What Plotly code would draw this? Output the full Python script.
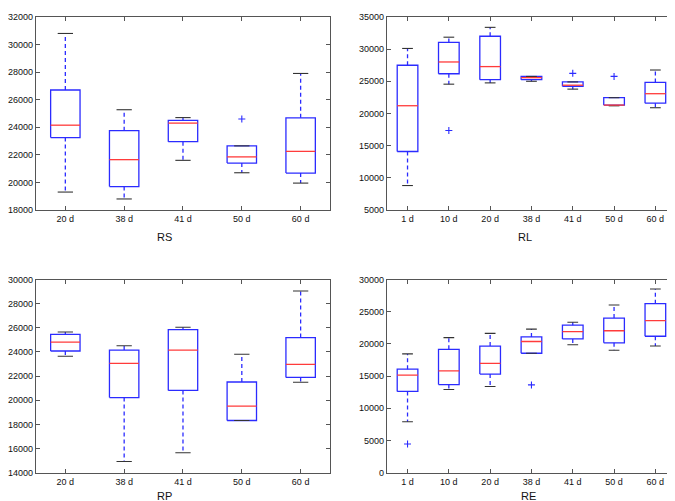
import plotly.graph_objects as go

# ---------------- data ----------------
rs_cats = ["20 d", "38 d", "41 d", "50 d", "60 d"]
rs_low = [19300, 18800, 21600, 20700, 19950]
rs_q1 = [23250, 19700, 22950, 21400, 20680]
rs_med = [24150, 21650, 24300, 21850, 22250]
rs_q3 = [26700, 23750, 24500, 22650, 24680]
rs_high = [30800, 25270, 24700, 22650, 27900]
rs_out = [[], [], [], [24600], []]

rl_cats = ["1 d", "10 d", "20 d", "38 d", "41 d", "50 d", "60 d"]
rl_low = [8800, 24550, 24750, 25000, 23780, 21190, 20890]
rl_q1 = [14090, 26170, 25250, 25250, 24230, 21300, 21600]
rl_med = [21200, 28000, 27280, 25560, 24390, 21300, 23070]
rl_q3 = [27490, 31040, 32000, 25750, 24900, 22450, 24820]
rl_high = [30100, 31850, 33380, 25750, 24900, 22450, 26750]
rl_out = [[], [17350], [], [], [26230], [25760], []]

rp_cats = ["20 d", "38 d", "41 d", "50 d", "60 d"]
rp_low = [23650, 14920, 15650, 18320, 21490]
rp_q1 = [24080, 20220, 20810, 18320, 21890]
rp_med = [24810, 23050, 24160, 19510, 22970]
rp_q3 = [25460, 24160, 25860, 21510, 25190]
rp_high = [25650, 24510, 26050, 23810, 29050]
rp_out = [[], [], [], [], []]

re_cats = ["1 d", "10 d", "20 d", "38 d", "41 d", "50 d", "60 d"]
re_low = [7900, 12920, 13380, 18550, 19870, 19010, 19670]
re_q1 = [12620, 13690, 15310, 18550, 20780, 20170, 21190]
re_med = [15150, 15810, 16980, 20380, 21900, 22050, 23620]
re_q3 = [16070, 19160, 19670, 21090, 22910, 24020, 26250]
re_high = [18450, 20980, 21640, 22300, 23370, 26050, 28540]
re_out = [[4460], [], [], [13630], [], [], []]

W, H = 675, 501
BOX_HALF = 0.25
CAP_HALF = 0.13
BLUE = "#2b2bff"
RED = "#ff3b3b"
CAP = "#333333"
FRAME = "#555555"
FONT = "Liberation Sans, Arial, sans-serif"

panels = [
    dict(name="RS", cats=rs_cats, low=rs_low, q1=rs_q1, med=rs_med, q3=rs_q3, high=rs_high, out=rs_out,
         xd=(26, 321), yd=(4, 201), yr=(18000, 32000), dt=2000, title_xy=(155, 229)),
    dict(name="RL", cats=rl_cats, low=rl_low, q1=rl_q1, med=rl_med, q3=rl_q3, high=rl_high, out=rl_out,
         xd=(378, 668), yd=(4, 201), yr=(5000, 35000), dt=5000, title_xy=(517, 229)),
    dict(name="RP", cats=rp_cats, low=rp_low, q1=rp_q1, med=rp_med, q3=rp_q3, high=rp_high, out=rp_out,
         xd=(26, 321), yd=(272, 469), yr=(14000, 30000), dt=2000, title_xy=(155, 493)),
    dict(name="RE", cats=re_cats, low=re_low, q1=re_q1, med=re_med, q3=re_q3, high=re_high, out=re_out,
         xd=(378, 668), yd=(272, 469), yr=(0, 30000), dt=5000, title_xy=(520, 493)),
]

fig = go.Figure()
annotations = []
layout = {}

for k, p in enumerate(panels, start=1):
    xa = "x" if k == 1 else f"x{k}"
    ya = "y" if k == 1 else f"y{k}"
    n = len(p["cats"])
    pos = list(range(1, n + 1))

    wx, wy, bx, by, cx, cy, mx, my, ox, oy = [], [], [], [], [], [], [], [], [], []
    for i, c in enumerate(pos):
        lo, q1, md, q3, hi = p["low"][i], p["q1"][i], p["med"][i], p["q3"][i], p["high"][i]
        wx += [c, c, None, c, c, None]
        wy += [q3, hi, None, q1, lo, None]
        bx += [c - BOX_HALF, c + BOX_HALF, c + BOX_HALF, c - BOX_HALF, c - BOX_HALF, None]
        by += [q1, q1, q3, q3, q1, None]
        cx += [c - CAP_HALF, c + CAP_HALF, None, c - CAP_HALF, c + CAP_HALF, None]
        cy += [hi, hi, None, lo, lo, None]
        mx += [c - BOX_HALF, c + BOX_HALF, None]
        my += [md, md, None]
        for v in p["out"][i]:
            ox.append(c)
            oy.append(v)

    common = dict(xaxis=xa, yaxis=ya, showlegend=False, hoverinfo="skip")
    fig.add_trace(go.Scatter(x=wx, y=wy, mode="lines",
                             line=dict(color=BLUE, width=1.3, dash="4px,3px"), **common))
    fig.add_trace(go.Scatter(x=bx, y=by, mode="lines",
                             line=dict(color=BLUE, width=1.3), **common))
    fig.add_trace(go.Scatter(x=cx, y=cy, mode="lines",
                             line=dict(color=CAP, width=1.1), **common))
    fig.add_trace(go.Scatter(x=mx, y=my, mode="lines",
                             line=dict(color=RED, width=1.3), **common))
    if ox:
        fig.add_trace(go.Scatter(x=ox, y=oy, mode="markers",
                                 marker=dict(symbol="cross-thin-open", size=5, color=BLUE,
                                             line=dict(color=BLUE, width=1.1)), **common))

    xkey = "xaxis" if k == 1 else f"xaxis{k}"
    ykey = "yaxis" if k == 1 else f"yaxis{k}"
    layout[xkey] = dict(
        domain=[p["xd"][0] / W, p["xd"][1] / W],
        anchor=ya, range=[0.5, n + 0.5],
        tickmode="array", tickvals=pos, ticktext=p["cats"],
        ticks="inside", ticklen=4, tickcolor=FRAME, tickwidth=1,
        showline=True, linecolor=FRAME, linewidth=1.2, mirror="allticks",
        showgrid=False, zeroline=False,
        tickfont=dict(family=FONT, size=9, color="#111111"),
    )
    layout[ykey] = dict(
        domain=[1 - p["yd"][1] / H, 1 - p["yd"][0] / H],
        anchor=xa, range=list(p["yr"]),
        tickmode="linear", tick0=p["yr"][0], dtick=p["dt"], tickformat="d",
        ticks="inside", ticklen=4, tickcolor=FRAME, tickwidth=1,
        showline=True, linecolor=FRAME, linewidth=1.2, mirror="allticks",
        showgrid=False, zeroline=False,
        tickfont=dict(family=FONT, size=9, color="#111111"),
    )
    annotations.append(dict(
        text=p["name"], x=p["title_xy"][0] / W, y=1 - p["title_xy"][1] / H,
        xref="paper", yref="paper", showarrow=False, xanchor="center", yanchor="middle",
        font=dict(family=FONT, size=11, color="#111111"),
    ))

fig.update_layout(
    width=W, height=H,
    margin=dict(l=0, r=0, t=0, b=0),
    paper_bgcolor="white", plot_bgcolor="white",
    annotations=annotations,
    **layout,
)

fig.write_html("out.html")
